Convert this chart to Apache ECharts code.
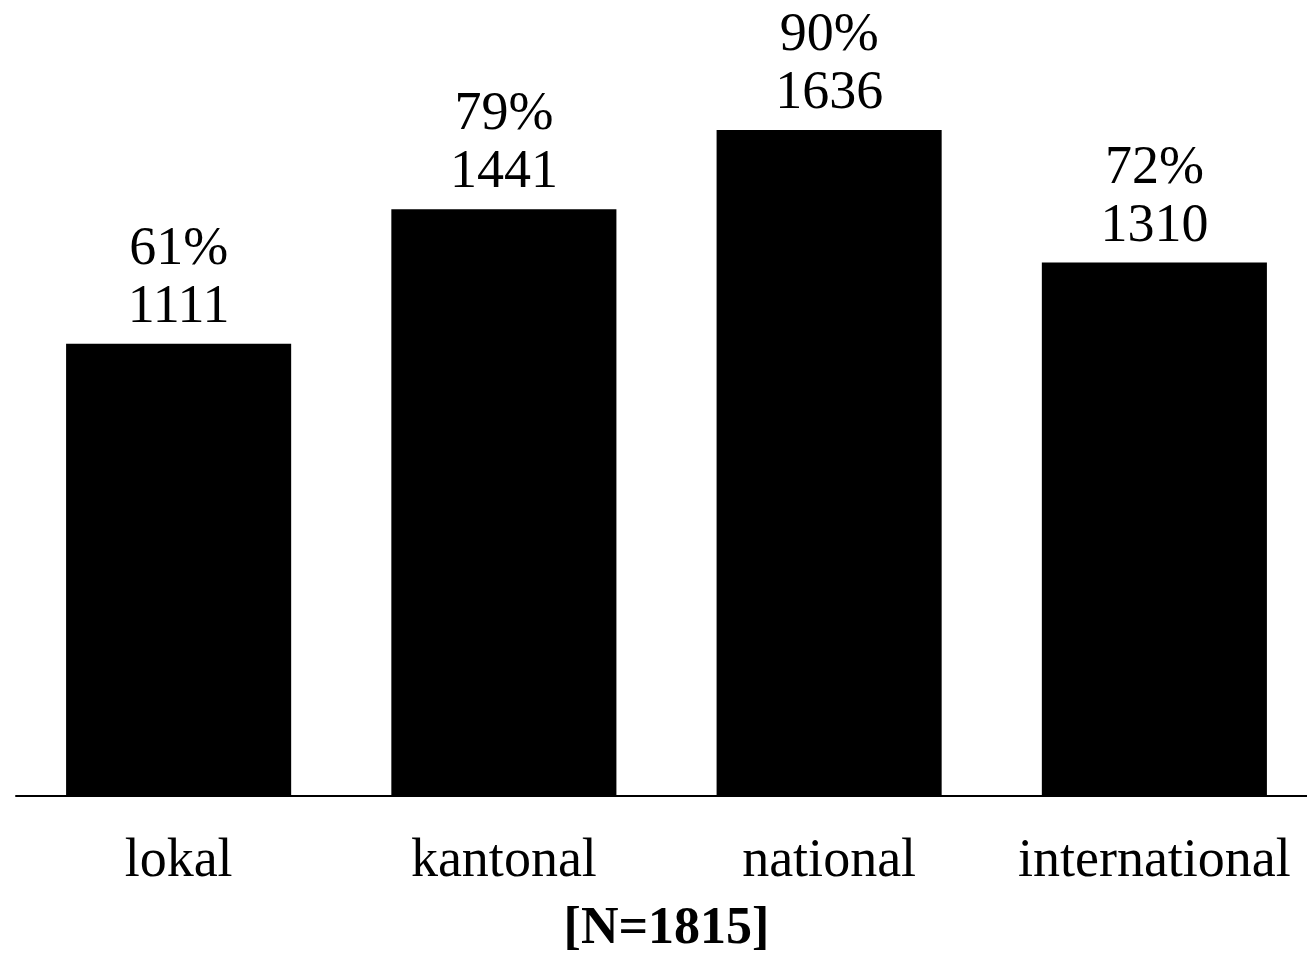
<!DOCTYPE html>
<html><head><meta charset="utf-8">
<script src="https://cdn.jsdelivr.net/npm/echarts@6/dist/echarts.min.js"></script>
<style>html,body{margin:0;padding:0;background:#fff}#c{width:1307px;height:956px}</style>
</head><body><div id="c"></div>
<script>
const categories = ['lokal', 'kantonal', 'national', 'international'];
const counts = [1111, 1441, 1636, 1310];
const percents = [61, 79, 90, 72];
const totalN = 1815;

const chart = echarts.init(document.getElementById('c'), null, {renderer: 'canvas'});
const font = '"Liberation Serif", "Times New Roman", serif';
chart.setOption({
  animation: false,
  backgroundColor: '#fff',
  grid: {left: 16, right: -10, top: 57, bottom: 160, containLabel: false, outerBoundsMode: 'none'},
  xAxis: {
    type: 'category',
    data: categories,
    axisLine: {lineStyle: {color: '#000', width: 2}},
    axisTick: {show: false},
    axisLabel: {color: '#000', fontFamily: font, fontSize: 54, margin: 39, interval: 0, hideOverlap: false},
    name: '[N=' + totalN + ']',
    nameLocation: 'middle',
    nameGap: 108,
    nameTextStyle: {color: '#000', fontFamily: font, fontSize: 52, fontWeight: 'bold'}
  },
  yAxis: {
    type: 'value', min: 0, max: totalN,
    show: false, splitLine: {show: false}
  },
  series: [{
    type: 'bar',
    data: counts,
    barWidth: '69.2%',
    itemStyle: {color: '#000'},
    label: {
      show: true, position: 'top', distance: 7,
      color: '#000', fontFamily: font, fontSize: 54, lineHeight: 58,
      formatter: p => percents[p.dataIndex] + '%\n' + p.value
    }
  }]
});
</script></body></html>
